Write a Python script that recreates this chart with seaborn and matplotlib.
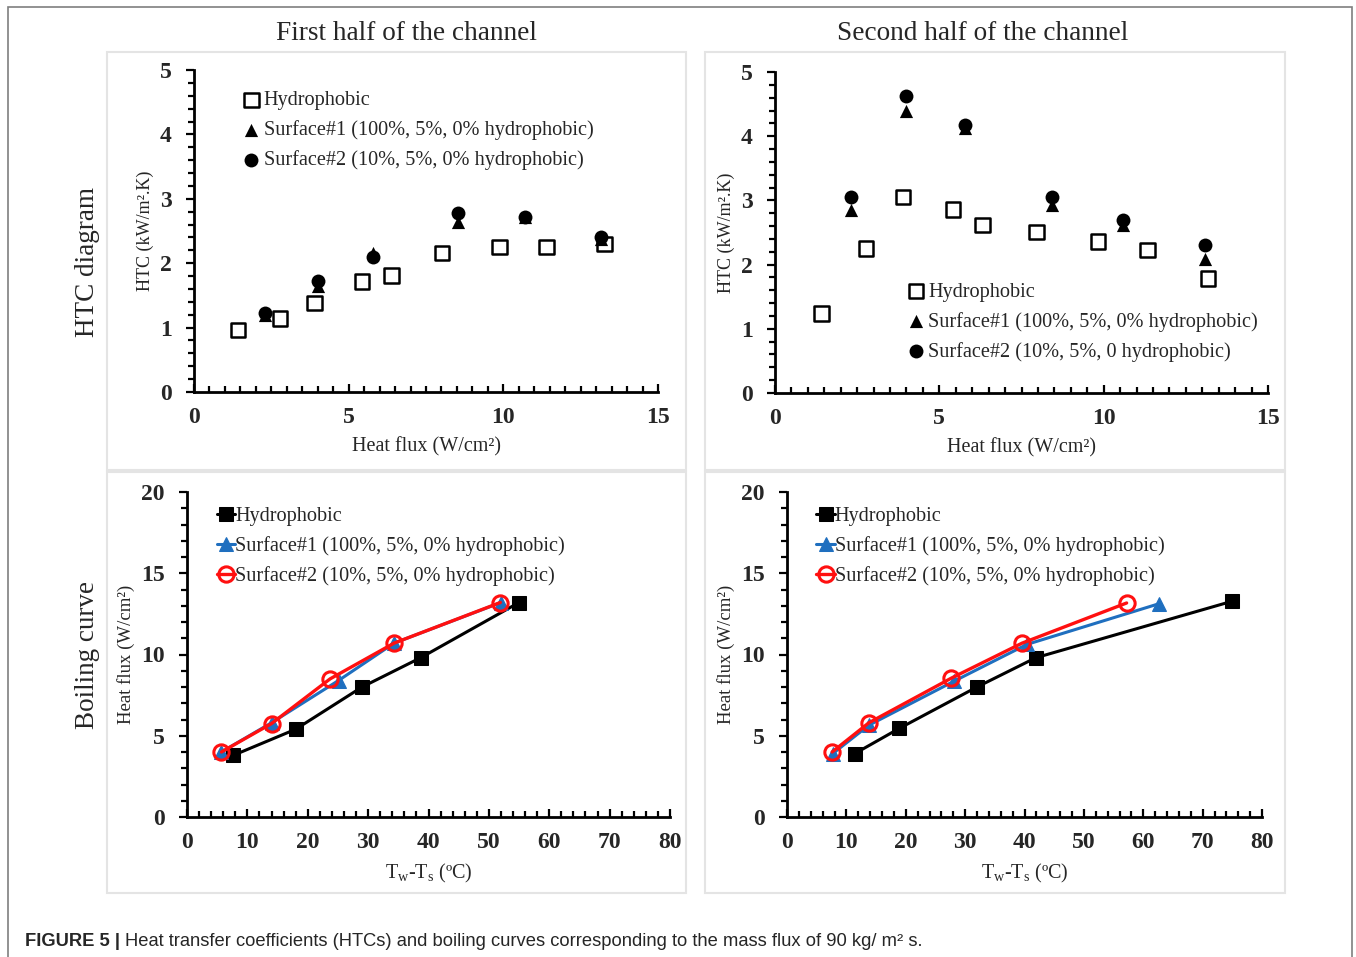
import numpy as np
import pandas as pd
import matplotlib
matplotlib.use("Agg")
import matplotlib.pyplot as plt
from matplotlib.patches import Rectangle
from matplotlib.ticker import MultipleLocator
import seaborn as sns

# HTC diagram, first half of the channel
htc1_hyd_q = [1.42, 2.78, 3.89, 5.43, 6.38, 8.02, 9.88, 11.4, 13.27]
htc1_hyd_h = [0.96, 1.14, 1.38, 1.72, 1.81, 2.16, 2.25, 2.25, 2.30]
htc1_s_q = [2.31, 4.01, 5.80, 8.52, 10.70, 13.15]
htc1_s1_h = [1.20, 1.64, 2.16, 2.64, 2.72, 2.38]
htc1_s2_h = [1.23, 1.72, 2.10, 2.78, 2.72, 2.40]

# HTC diagram, second half of the channel
htc2_hyd_q = [1.42, 2.77, 3.90, 5.42, 6.31, 7.96, 9.83, 11.33, 13.18]
htc2_hyd_h = [1.24, 2.25, 3.05, 2.86, 2.62, 2.51, 2.36, 2.23, 1.78]
htc2_s_q = [2.31, 3.98, 5.77, 8.44, 10.60, 13.09]
htc2_s1_h = [2.85, 4.39, 4.13, 2.93, 2.61, 2.08]
htc2_s2_h = [3.06, 4.62, 4.17, 3.06, 2.70, 2.31]

# boiling curves, first half
bc1_hyd_dt = [7.7, 18.0, 29.0, 38.7, 55.0]
bc1_hyd_q = [3.8, 5.4, 8.0, 9.8, 13.2]
bc1_s1_dt = [5.7, 14.0, 25.1, 34.3, 52.0]
bc1_s1_q = [4.0, 5.8, 8.4, 10.7, 13.2]
bc1_s2_dt = [5.7, 14.0, 23.7, 34.3, 51.9]
bc1_s2_q = [4.0, 5.75, 8.5, 10.7, 13.2]

# boiling curves, second half
bc2_hyd_dt = [11.4, 18.9, 32.0, 41.9, 74.9]
bc2_hyd_q = [3.9, 5.45, 8.0, 9.8, 13.27]
bc2_s1_dt = [7.7, 13.8, 28.2, 40.4, 62.7]
bc2_s1_q = [3.9, 5.65, 8.37, 10.62, 13.13]
bc2_s2_dt = [7.6, 13.8, 27.7, 39.6, 57.2]
bc2_s2_q = [4.0, 5.8, 8.55, 10.7, 13.17]

lbl_hyd = "Hydrophobic"
lbl_s1 = "Surface#1 (100%, 5%, 0% hydrophobic)"
lbl_s2 = "Surface#2 (10%, 5%, 0% hydrophobic)"
lbl_s2b = "Surface#2 (10%, 5%, 0 hydrophobic)"

sns.set_style("ticks")
plt.rcParams["font.family"] = ["Liberation Serif", "DejaVu Serif"]
plt.rcParams["mathtext.fontset"] = "custom"
plt.rcParams["mathtext.rm"] = "Liberation Serif"
plt.rcParams["mathtext.it"] = "Liberation Serif:italic"

W, H = 1356, 957
fig = plt.figure(figsize=(W / 100, H / 100), dpi=100)


def px(x0, y0, x1, y1):
    # pixel box -> figure fraction rect
    return [x0 / W, 1 - y1 / H, (x1 - x0) / W, (y1 - y0) / H]


# frame and panel boxes
fig.patches.append(Rectangle((8 / W, -0.01), (1352 - 8) / W, 1.01 - 7 / H,
                             transform=fig.transFigure, fill=False,
                             edgecolor="#7f7f7f", lw=1.2))
for bx in [(107, 52, 686, 470), (705, 52, 1285, 470),
           (107, 472, 686, 893), (705, 472, 1285, 893)]:
    fig.patches.append(Rectangle((bx[0] / W, 1 - bx[3] / H), (bx[2] - bx[0]) / W,
                                 (bx[3] - bx[1]) / H, transform=fig.transFigure,
                                 fill=False, edgecolor="#e4e4e4", lw=1.5))


def style_axes(ax, xmax, ymax, xmaj, xmin, ymaj, ymin):
    ax.set_xlim(0, xmax)
    ax.set_ylim(0, ymax)
    sns.despine(ax=ax)
    for s in ["left", "bottom"]:
        ax.spines[s].set_linewidth(2.0)
        ax.spines[s].set_color("black")
    ax.xaxis.set_major_locator(MultipleLocator(xmaj))
    ax.xaxis.set_minor_locator(MultipleLocator(xmin))
    ax.yaxis.set_major_locator(MultipleLocator(ymaj))
    ax.yaxis.set_minor_locator(MultipleLocator(ymin))
    ax.tick_params(axis="x", which="both", direction="in", width=1.6, color="black")
    ax.tick_params(axis="y", which="both", direction="out", width=1.6, color="black")
    ax.tick_params(which="major", length=6)
    ax.tick_params(which="minor", length=4)
    ax.tick_params(axis="x", pad=11)
    ax.tick_params(axis="y", pad=10)
    for t in ax.get_xticklabels() + ax.get_yticklabels():
        t.set_fontweight("bold")
        t.set_fontsize(17)
    ax.set_facecolor("white")


def htc_panel(rect, hq, hh, sq, s1, s2, s2label, leg_anchor):
    ax = fig.add_axes(rect)
    sns.scatterplot(x=hq, y=hh, ax=ax, marker="s", s=110, color="none",
                    edgecolor="black", linewidth=1.8, label=lbl_hyd)
    sns.scatterplot(x=sq, y=s1, ax=ax, marker="^", s=90, color="black",
                    edgecolor="black", linewidth=0, label=lbl_s1)
    sns.scatterplot(x=sq, y=s2, ax=ax, marker="o", s=100, color="black",
                    edgecolor="black", linewidth=0, label=s2label)
    style_axes(ax, 15, 5, 5, 0.5, 1, 0.2)
    ax.set_xlabel("Heat flux (W/cm²)", fontsize=14.5, labelpad=6)
    ax.set_ylabel("HTC (kW/m².K)", fontsize=13)
    ax.legend(loc="upper left", bbox_to_anchor=leg_anchor, frameon=False,
              fontsize=14.6, handletextpad=0.0, labelspacing=0.5,
              borderaxespad=0, handlelength=1.2)
    return ax


def boil_panel(rect, hd, hq, d1, q1, d2, q2, leg_anchor):
    ax = fig.add_axes(rect)
    sns.lineplot(x=hd, y=hq, ax=ax, sort=False, color="black", lw=2.2,
                 marker="s", markersize=10, markeredgecolor="black", label=lbl_hyd)
    sns.lineplot(x=d1, y=q1, ax=ax, sort=False, color="#1f6fbf", lw=2.2,
                 marker="^", markersize=10, markeredgecolor="#1f6fbf", label=lbl_s1)
    sns.lineplot(x=d2, y=q2, ax=ax, sort=False, color="#ff1010", lw=2.4,
                 marker="o", markersize=11, markerfacecolor="none",
                 markeredgecolor="#ff1010", markeredgewidth=2.2, label=lbl_s2)
    style_axes(ax, 80, 20, 10, 2, 5, 1)
    ax.set_xlabel("T$_{\\mathrm{w}}$-T$_{\\mathrm{s}}$ (ºC)", fontsize=14.5, labelpad=6)
    ax.set_ylabel("Heat flux (W/cm²)", fontsize=13.5)
    ax.legend(loc="upper left", bbox_to_anchor=leg_anchor, frameon=False,
              fontsize=14.6, handletextpad=0.0, labelspacing=0.5,
              borderaxespad=0, handlelength=0.9)
    return ax


htc_panel(px(194, 70, 658, 392), htc1_hyd_q, htc1_hyd_h, htc1_s_q,
          htc1_s1_h, htc1_s2_h, lbl_s2, (0.08, 0.96))
htc_panel(px(775, 72, 1268, 393), htc2_hyd_q, htc2_hyd_h, htc2_s_q,
          htc2_s1_h, htc2_s2_h, lbl_s2b, (0.245, 0.37))
boil_panel(px(187, 492, 670, 817), bc1_hyd_dt, bc1_hyd_q, bc1_s1_dt, bc1_s1_q,
           bc1_s2_dt, bc1_s2_q, (0.045, 0.98))
boil_panel(px(787, 492, 1262, 817), bc2_hyd_dt, bc2_hyd_q, bc2_s1_dt, bc2_s1_q,
           bc2_s2_dt, bc2_s2_q, (0.045, 0.98))

# column and row titles
fig.text(407 / W, 1 - 34 / H, "First half of the channel", fontsize=19.6,
         ha="center", va="center")
fig.text(983 / W, 1 - 34 / H, "Second half of the channel", fontsize=19.6,
         ha="center", va="center")
fig.text(88 / W, 1 - 262 / H, "HTC diagram", fontsize=19.5, rotation=90,
         ha="center", va="center")
fig.text(88 / W, 1 - 655 / H, "Boiling curve", fontsize=19.5, rotation=90,
         ha="center", va="center")

# caption
cap_b = fig.text(25 / W, 1 - 941 / H, "FIGURE 5 |", fontsize=13.2, fontweight="bold",
                 family="Liberation Sans", va="center", ha="left")
fig.canvas.draw()
bb = cap_b.get_window_extent()
fig.text((bb.x1 + 5) / W, 1 - 941 / H,
         "Heat transfer coefficients (HTCs) and boiling curves corresponding to "
         "the mass flux of 90 kg/ m² s.", fontsize=13.2, family="Liberation Sans",
         va="center", ha="left")

fig.savefig("out.png", dpi=100, facecolor="white")
